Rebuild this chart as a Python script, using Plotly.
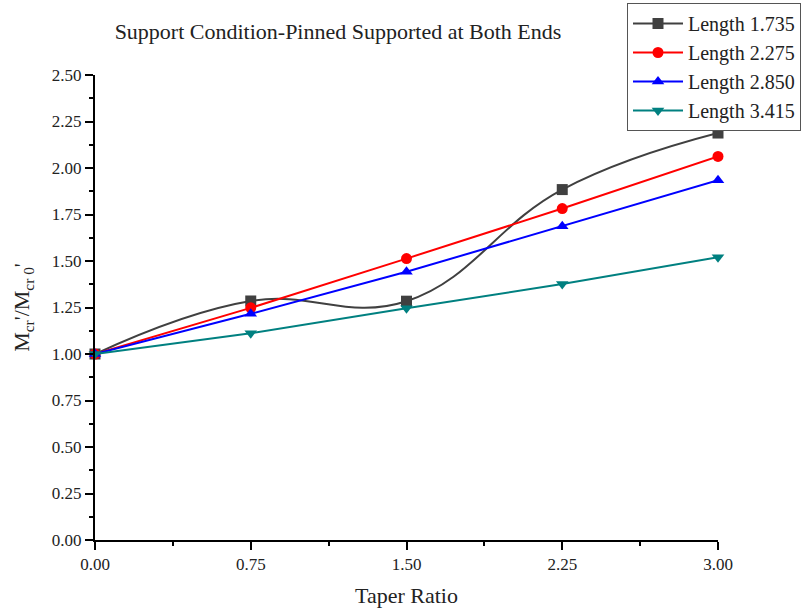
import plotly.graph_objects as go

taper = [0.0, 0.75, 1.50, 2.25, 3.00]
len_1735 = [1.00, 1.285, 1.284, 1.884, 2.188]
len_2275 = [1.00, 1.248, 1.513, 1.782, 2.062]
len_2850 = [1.00, 1.216, 1.442, 1.687, 1.934]
len_3415 = [1.00, 1.112, 1.246, 1.376, 1.520]

series = [
    ("Length 1.735", len_1735, "#404040", "square", "spline"),
    ("Length 2.275", len_2275, "#FF0000", "circle", "linear"),
    ("Length 2.850", len_2850, "#0000FF", "triangle-up", "linear"),
    ("Length 3.415", len_3415, "#008080", "triangle-down", "linear"),
]

font_family = "Liberation Serif, Times New Roman, serif"
txt = "#222222"

fig = go.Figure()
for name, vals, color, sym, shape in series:
    fig.add_trace(go.Scatter(
        x=taper, y=vals, name=name, mode="lines+markers",
        line=dict(color=color, width=2, shape=shape, smoothing=1.2),
        marker=dict(symbol=sym, size=11, color=color),
        cliponaxis=False,
    ))

fig.update_layout(
    width=811, height=611,
    paper_bgcolor="white", plot_bgcolor="white",
    margin=dict(l=95, r=93, t=75, b=71, autoexpand=False),
    font=dict(family=font_family, color=txt),
    title=dict(text="Support Condition-Pinned Supported at Both Ends",
               x=338 / 811, xanchor="center", y=1 - 31 / 611, yanchor="middle",
               font=dict(size=22, family=font_family, color=txt)),
    legend=dict(x=(627 - 95) / 623, xanchor="left", y=(540 - 3) / 465, yanchor="top",
                bordercolor="#555555", borderwidth=1, bgcolor="white",
                font=dict(size=20, family=font_family, color=txt),
                itemwidth=50, tracegroupgap=0),
    showlegend=True,
)

fig.update_xaxes(
    range=[0, 3], tickvals=[0, 0.75, 1.5, 2.25, 3.0],
    ticktext=["0.00", "0.75", "1.50", "2.25", "3.00"],
    showline=True, linecolor="black", linewidth=2, mirror=False,
    ticks="outside", ticklen=8, tickwidth=2, tickcolor="black",
    minor=dict(dtick=0.375, tick0=0, ticks="outside", ticklen=4, tickwidth=2, tickcolor="black", showgrid=False),
    showgrid=False, zeroline=False, automargin=False,
    tickfont=dict(size=17, family=font_family, color=txt),
    title=dict(text="Taper Ratio", font=dict(size=22, family=font_family, color=txt), standoff=14),
)
fig.update_yaxes(
    range=[0, 2.5], dtick=0.25, tick0=0, tickformat=".2f",
    showline=True, linecolor="black", linewidth=2, mirror=False,
    ticks="outside", ticklen=8, tickwidth=2, tickcolor="black",
    minor=dict(dtick=0.125, tick0=0, ticks="outside", ticklen=4, tickwidth=2, tickcolor="black", showgrid=False),
    showgrid=False, zeroline=False, automargin=False,
    tickfont=dict(size=17, family=font_family, color=txt),
    title=dict(text="M<sub>cr</sub>'/M<sub>cr 0</sub>'", font=dict(size=22, family=font_family, color=txt), standoff=16),
)

fig.write_html("out.html", config={"displayModeBar": False},
               post_script="document.body.style.margin='0';document.body.style.overflow='hidden';")
